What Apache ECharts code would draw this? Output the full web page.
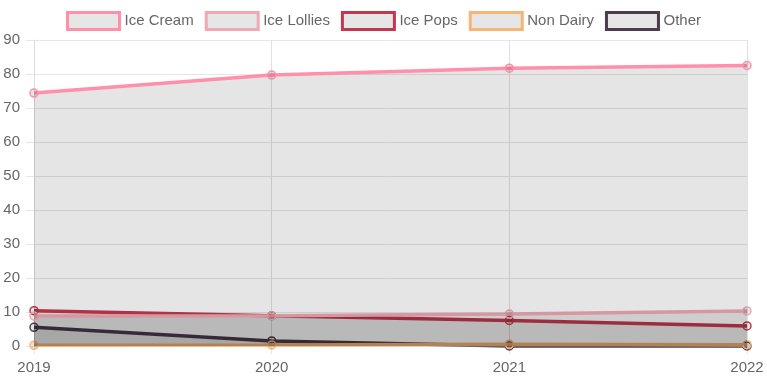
<!DOCTYPE html>
<html><head><meta charset="utf-8">
<script src="https://cdn.jsdelivr.net/npm/echarts@6/dist/echarts.min.js"></script>
<style>html,body{margin:0;padding:0;background:#fff}#c{width:767px;height:383px}</style>
</head><body><div id="c"></div>
<script>
const years = ['2019','2020','2021','2022'];
const seriesNames = ['Ice Cream','Ice Lollies','Ice Pops','Non Dairy','Other'];
const iceCream = [74.4, 79.7, 81.7, 82.5];
const iceLollies = [8.8, 8.9, 9.4, 10.3];
const icePops = [10.4, 8.9, 7.5, 5.9];
const nonDairy = [0.2, 0.3, 0.5, 0.4];
const other = [5.5, 1.5, 0.0, 0.0];
const colors = ['#ff8fab','#eea9b3','#c3384e','#f7b574','#4e3c4e'];
const yTicks = [0,10,20,30,40,50,60,70,80,90];

const values = [iceCream, iceLollies, icePops, nonDairy, other];
const chart = echarts.init(document.getElementById('c'));
const font = 'Liberation Sans, Arial, Helvetica, sans-serif';
chart.setOption({
  animation:false,
  legend:{
    top:6, left:'center', itemWidth:52, itemHeight:17, itemGap:11,
    icon:'rect',
    textStyle:{color:'#666', fontSize:15, fontFamily:font},
    data: seriesNames.map((n,i)=>({name:n, icon:'rect', itemStyle:{color:'#e6e6e6', borderColor:colors[i], borderWidth:3}}))
  },
  grid:{left:34, right:20, top:40, bottom:37, containLabel:false},
  xAxis:{
    type:'category', data:years, boundaryGap:false,
    axisLine:{show:true, lineStyle:{color:'#dcdcdc'}},
    axisTick:{show:true, length:8, lineStyle:{color:'#e6e6e6'}},
    splitLine:{show:true, lineStyle:{color:'#e0e0e0'}},
    axisLabel:{color:'#666', fontSize:15, fontFamily:font, margin:14}
  },
  yAxis:{
    type:'value', min:yTicks[0], max:yTicks[yTicks.length-1], interval:10,
    axisLine:{show:true, lineStyle:{color:'#dcdcdc'}},
    axisTick:{show:true, length:8, lineStyle:{color:'#e6e6e6'}},
    splitLine:{show:true, lineStyle:{color:'#e6e6e6'}},
    axisLabel:{color:'#666', fontSize:15, fontFamily:font, margin:14}
  },
  series: seriesNames.map((n,i)=>({
    name:n, type:'line', data:values[i], z:10-i, clip:false,
    symbol:'circle', symbolSize:8, showSymbol:true,
    lineStyle:{color:colors[i], width:3.5},
    itemStyle:{color:'rgba(0,0,0,0.1)', borderColor:colors[i], borderWidth:1.5},
    areaStyle:{color:'rgba(0,0,0,0.1)', opacity:1, origin:'start'},
    emphasis:{disabled:true}
  }))
});
</script></body></html>
